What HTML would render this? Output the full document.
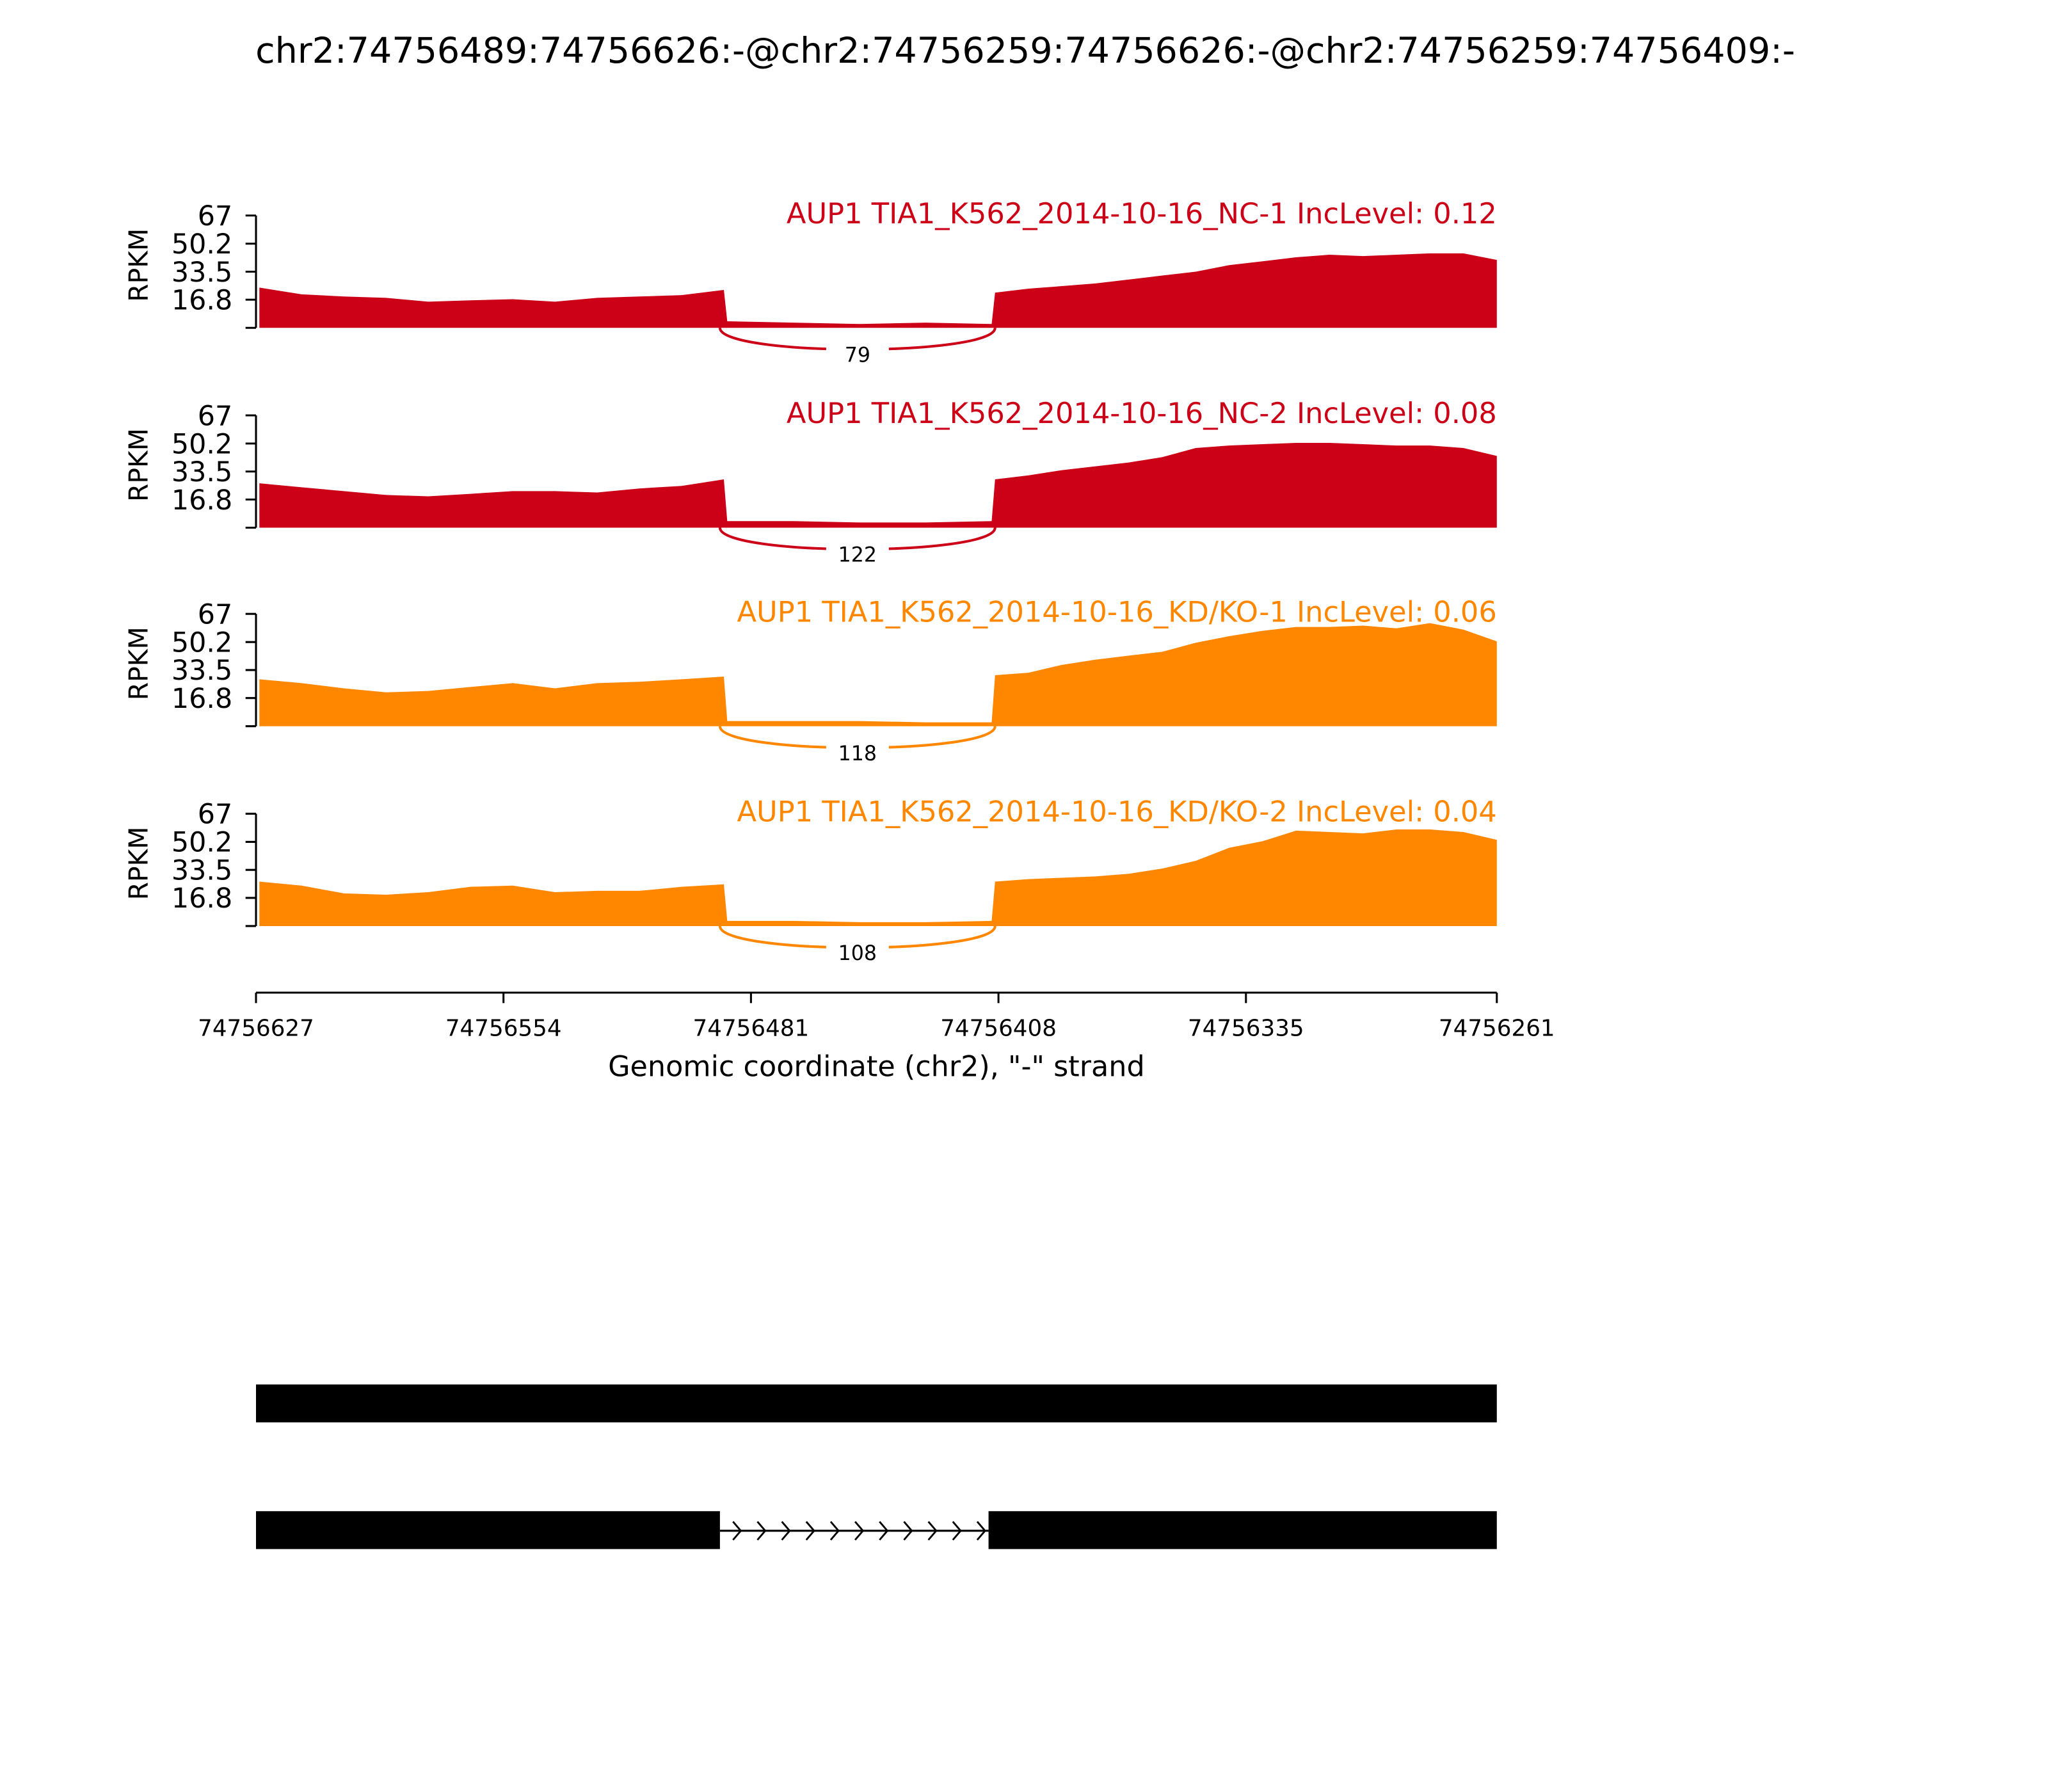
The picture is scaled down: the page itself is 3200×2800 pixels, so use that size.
<!DOCTYPE html>
<html><head><meta charset="utf-8"><style>
html,body{margin:0;padding:0;background:#fff}
svg{display:block;font-family:"DejaVu Sans","Liberation Sans",sans-serif}
</style></head><body>
<svg id="chart" width="3200" height="2800" viewBox="0 0 1568 1372" preserveAspectRatio="none" xmlns="http://www.w3.org/2000/svg">
<rect width="1568" height="1372" fill="#fff"/>
<text x="785" y="48" font-size="27.2" text-anchor="middle">chr2:74756489:74756626:-@chr2:74756259:74756626:-@chr2:74756259:74756409:-</text>
<g id="panels"></g>
<g id="xaxis"></g>
<g id="genes"></g>
</svg>
<script>
const sampleNames = ["AUP1 TIA1_K562_2014-10-16_NC-1","AUP1 TIA1_K562_2014-10-16_NC-2","AUP1 TIA1_K562_2014-10-16_KD/KO-1","AUP1 TIA1_K562_2014-10-16_KD/KO-2"];
const incLevels = ["0.12","0.08","0.06","0.04"];
const junctionCounts = [79,122,118,108];
const sampleColors = ["#cc0016","#cc0016","#ff8700","#ff8700"];
const exon1Cov = [
 [24,20,18.7,17.9,15.6,16.4,17.1,15.6,17.9,18.7,19.5,22.6],
 [26.5,24.1,21.8,19.5,18.7,20.2,21.8,21.8,21,23.4,24.9,28.8],
 [28,25.7,22.6,20.2,21,23.4,25.7,22.6,25.7,26.5,28,29.6],
 [26.5,24.1,19.5,18.7,20.2,23.4,24.1,20.2,21,21,23.4,24.9]];
const intronCov = [
 [3.9,3.1,2.3,3.1,2.3],[3.9,3.9,3.1,3.1,3.9],[3.1,3.1,3.1,2.3,2.3],[3.1,3.1,2.3,2.3,3.1]];
const exon2Cov = [
 [21,23.4,24.9,26.5,28.8,31.2,33.5,37.4,39.7,42.1,43.6,42.8,43.6,44.4,44.4,40.5],
 [28.8,31.2,34.3,36.6,38.9,42.1,47.5,49,49.8,50.6,50.6,49.8,49,49,47.5,42.8],
 [30.4,31.9,36.6,39.7,42.1,44.4,49.8,53.7,56.9,59.2,59.2,60,58.4,61.5,57.6,50.6],
 [26.5,28,28.8,29.6,31.2,34.3,38.9,46.7,50.6,56.9,56.1,55.3,57.6,57.6,56.1,51.4]];
const yTicks = [0,16.8,33.5,50.2,67];
const yTickLabels = ["","16.8","33.5","50.2","67"];
const xTicks = [74756627,74756554,74756481,74756408,74756335,74756261];
const exon1Range = [74756626,74756489];
const intronRange = [74756489,74756409];
const exon2Range = [74756409,74756261];

const NS="http://www.w3.org/2000/svg";
function mk(tag,attrs,parent){const e=document.createElementNS(NS,tag);for(const k in attrs)e.setAttribute(k,attrs[k]);parent.appendChild(e);return e;}
const gStart=74756627,gEnd=74756261,X0=196,X1=1146;
function xs(g){return X0+(gStart-g)/(gStart-gEnd)*(X1-X0);}
const panelTops=[165,318,470,623], PH=86, YMAX=67;
const panels=document.getElementById('panels');
sampleNames.forEach((name,i)=>{
  const top=panelTops[i], base=top+PH, col=sampleColors[i];
  const ys=v=>base-v/YMAX*PH;
  const g=mk('g',{},panels);
  
  
  let pts=[];
  function seg(arr,r){const a=xs(r[0]),b=xs(r[1]);arr.forEach((v,k)=>{pts.push([a+(b-a)*k/(arr.length-1),ys(v)]);});}
  pts.push([xs(exon1Range[0]),base]);
  seg(exon1Cov[i],exon1Range);
  seg(intronCov[i],[intronRange[0]-1,intronRange[1]+1]);
  seg(exon2Cov[i],exon2Range);
  pts.push([xs(exon2Range[1]),base]);
  const area=mk('polygon',{points:pts.map(p=>p.join(',')).join(' '),fill:col},g);
  
  
  const ax=mk('g',{},g);
  
  
  mk('line',{x1:196,y1:top,x2:196,y2:base,stroke:'#000','stroke-width':1.5},ax);
  yTicks.forEach((t,k)=>{const y=ys(t);mk('line',{x1:188,y1:y,x2:196,y2:y,stroke:'#000','stroke-width':1.5},ax);
    if(yTickLabels[k]){const tx=mk('text',{x:178,y:y+7.5,'font-size':21,'text-anchor':'end'},ax);tx.textContent=yTickLabels[k];}});
  const yl=mk('text',{x:0,y:0,'font-size':20,'text-anchor':'middle',transform:`translate(113,${top+38}) rotate(-90)`},g);
  yl.textContent='RPKM';
  
  
  const lab=mk('text',{x:1146,y:top+6,'font-size':21.9,'text-anchor':'end',fill:col},g);
  lab.textContent=name+' IncLevel: '+incLevels[i];
  
  
  const ja=xs(exon1Range[1])-3, jb=xs(intronRange[1]), depth=base+17;
  const arc=mk('path',{d:`M${ja},${base} C${ja},${depth+5} ${jb},${depth+5} ${jb},${base}`,fill:'none',stroke:col,'stroke-width':2},g);
  
  
  const mx=(ja+jb)/2;
  mk('rect',{x:mx-24,y:depth-5,width:48,height:16,fill:'#fff'},g);
  const jt=mk('text',{x:mx,y:depth+9,'font-size':15.5,'text-anchor':'middle'},g);
  jt.textContent=junctionCounts[i];
  
  
});
const xa=document.getElementById('xaxis');
mk('line',{x1:X0,y1:760,x2:X1,y2:760,stroke:'#000','stroke-width':1.5},xa);
xTicks.forEach(t=>{const x=xs(t);mk('line',{x1:x,y1:760,x2:x,y2:768,stroke:'#000','stroke-width':1.5},xa);
  const tx=mk('text',{x:x,y:793,'font-size':17.5,'text-anchor':'middle'},xa);tx.textContent=t;});
const xt=mk('text',{x:671,y:824,'font-size':21.8,'text-anchor':'middle'},xa);
xt.textContent='Genomic coordinate (chr2), "-" strand';


const gm=document.getElementById('genes');
const t1=mk('rect',{x:196,y:1060,width:950,height:29,fill:'#000'},gm);


const a1=xs(exon1Range[1])-3,b1=xs(intronRange[1])-5;
mk('line',{x1:a1,y1:1172,x2:b1,y2:1172,stroke:'#000','stroke-width':1.5},gm);
for(let k=0;k<11;k++){const cx=a1+14+k*18.7;mk('polyline',{points:`${cx-4},${1165} ${cx+2},${1172} ${cx-4},${1179}`,fill:'none',stroke:'#000','stroke-width':1.4},gm);}
const e1=mk('rect',{x:196,y:1157,width:a1-196,height:29,fill:'#000'},gm);


const e2=mk('rect',{x:b1,y:1157,width:1146-b1,height:29,fill:'#000'},gm);


</script>
</body></html>
